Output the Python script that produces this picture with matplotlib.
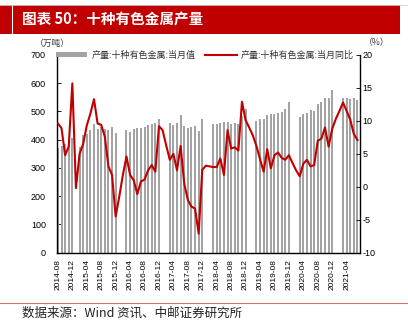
import numpy as np
import matplotlib
matplotlib.use("Agg")
import matplotlib.pyplot as plt
from matplotlib.patches import Rectangle
from matplotlib.lines import Line2D

plt.rcParams['font.family'] = ['Noto Sans CJK SC', 'DejaVu Sans']
plt.rcParams['axes.unicode_minus'] = False

N = None
# monthly 2014-08 .. 2021-07 (84 months)
months = [f"{2014 + (7 + i) // 12}-{(7 + i) % 12 + 1:02d}" for i in range(84)]

prod = [370, 378, 384, 395, 405,
        N,
        376, 415, 422, 435, 454, 438, 444, 439, 436, 444, 424,
        N, N,
        434, 427, 438, 442, 440, 445, 451, 454, 458, 473,
        N, N,
        458, 451, 459, 486, 448, 442, 445, 447, 432, 474,
        N, N,
        455, 455, 459, 462, 464, 456, 458, 455, 485, 508,
        N, N,
        468, 475, 475, 489, 491, 492, 495, 498, 509, 532,
        N, N,
        482, 491, 495, 505, 503, 528, 532, 546, 549, 576,
        N, N,
        549, 549, 545, 549, 539]

yoy = [9.6, 8.9, 4.8, 6.1, 15.7, -0.2, 5.0, 6.5, 9.3, 11.1,
       13.3, 9.6, 9.4, 7.6, 3.1, 1.8, -4.5, -1.5, 1.8, 4.6,
       1.8, 1.0, -1.1, 0.8, 1.1, 2.5, 3.3, 2.3, 9.2, 8.6,
       6.3, 4.1, 5.0, 2.5, 6.2, 0.5, -2.0, -3.0, -3.3, -7.1,
       2.6, 3.2, 3.1, 3.0, 3.0, 4.3, 1.8, 8.6, 5.8, 6.0,
       5.5, 12.9, 10.1, 9.0, 7.8, 6.2, 4.2, 2.3, 5.7, 2.8,
       4.8, 5.2, 4.4, 4.1, 4.8, 3.6, 2.5, 1.6, 3.5, 4.1,
       3.1, 3.3, 7.0, 7.3, 9.0, 6.1, 8.8, 10.3, 11.5, 12.8,
       11.5, 10.2, 8.0, 7.1]

tick_labels = months[::4]

left_ticks = [0, 100, 200, 300, 400, 500, 600, 700]
right_ticks = [-10, -5, 0, 5, 10, 15, 20]

fig = plt.figure(figsize=(4.08, 3.23), dpi=100)

# banner
fig.add_artist(Rectangle((0, 1 - 34 / 323), 400 / 408, 29 / 323,
                         transform=fig.transFigure, facecolor='#C00000',
                         edgecolor='none'))
fig.add_artist(Line2D([11.5 / 408, 11.5 / 408], [1 - 34 / 323, 1 - 5 / 323],
                      transform=fig.transFigure, color='white', lw=0.8))
fig.add_artist(Line2D([0, 1], [1 - 4.5 / 323, 1 - 4.5 / 323],
                      transform=fig.transFigure, color='#D0D0D0', lw=0.6))
fig.text(22 / 408, 1 - 19.5 / 323, '图表 50：十种有色金属产量', color='white',
         fontsize=10.5, fontweight='semibold', va='center', ha='left')

ax = fig.add_axes([57 / 408, 1 - 252.7 / 323, 303 / 408, 197.7 / 323])
x = np.arange(len(months))
pv = np.array([np.nan if v is None else v for v in prod], dtype=float)
ax.bar(x, pv, width=0.55, color='#A3A3A3', edgecolor='none', zorder=2,
       label='产量:十种有色金属:当月值')
ax.set_ylim(0, 700)
ax.set_yticks(left_ticks)
ax.set_xlim(-0.25, 83.7)
ax.set_xticks(x[::4])
ax.set_xticklabels(tick_labels, rotation=90, fontsize=6,
                   family=['Liberation Sans', 'DejaVu Sans'])
ax.tick_params(axis='x', direction='in', length=2.5, pad=4.5, width=0.6)
ax.tick_params(axis='y', direction='in', length=3, pad=8, labelsize=6.5, width=0.6)
for lab in ax.get_yticklabels():
    lab.set_family(['Liberation Sans', 'DejaVu Sans'])
ax.spines['top'].set_visible(False)
ax.spines['right'].set_visible(False)
for s in ['left', 'bottom']:
    ax.spines[s].set_linewidth(1.0)

ax2 = ax.twinx()
ax2.plot(x, yoy, color='#C00000', lw=1.5, zorder=3,
         label='产量:十种有色金属:当月同比')
ax2.set_ylim(-10, 20)
ax2.set_yticks(right_ticks)
ax2.tick_params(axis='y', direction='in', length=3, pad=2, labelsize=6.5, width=0.6)
for lab in ax2.get_yticklabels():
    lab.set_family(['Liberation Sans', 'DejaVu Sans'])
ax2.spines['top'].set_visible(False)
ax2.spines['left'].set_visible(False)
ax2.spines['bottom'].set_visible(False)
ax2.spines['right'].set_linewidth(1.0)

# units
fig.text(35 / 408, 1 - 43 / 323, '（万吨）', fontsize=6.3, color='#333333',
         va='center', ha='left')
fig.text(364 / 408, 1 - 43 / 323, '（%）', fontsize=6.3, color='#333333',
         va='center', ha='left')

# legend
h1, l1 = ax.get_legend_handles_labels()
h2, l2 = ax2.get_legend_handles_labels()
leg = fig.legend(h1 + h2, l1 + l2, ncol=2, frameon=False, fontsize=6.5,
                 loc='center', bbox_to_anchor=(205 / 408, 1 - 55 / 323),
                 handlelength=3.5, handleheight=0.4, handletextpad=0.5,
                 columnspacing=1.0, labelcolor='#333333')

# bottom line and source
fig.add_artist(Line2D([0, 1], [1 - 303 / 323, 1 - 303 / 323],
                      transform=fig.transFigure, color='#E07070', lw=0.8))
fig.text(22 / 408, 1 - 313 / 323, '数据来源：Wind 资讯、中邮证券研究所',
         fontsize=9, color='#222222', va='center', ha='left', style='italic')

fig.savefig('out.png', dpi=100)
